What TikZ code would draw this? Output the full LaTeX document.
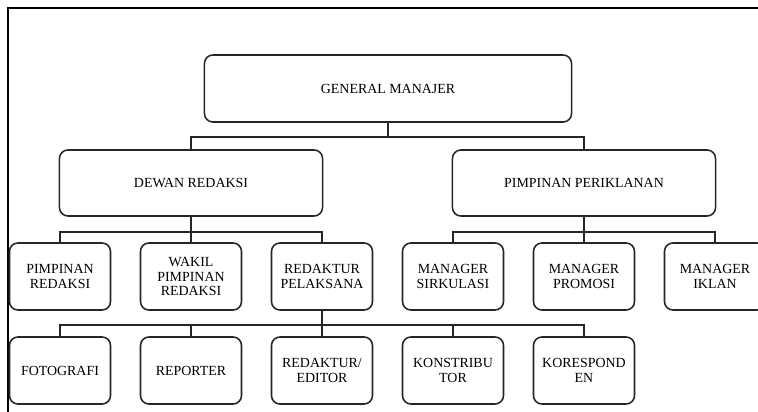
\documentclass[tikz,border=0pt]{standalone}
\usepackage{fontspec}
\setmainfont{Liberation Serif}

\begin{document}
\begin{tikzpicture}[
    x=0.025cm,y=-0.025cm,
    jabatan/.style={draw=black!85, line width=1.1pt, rounded corners=6pt,
      align=center, inner sep=1pt,
      font=\fontsize{9.9}{10.4}\selectfont},
    lebar/.style={jabatan, minimum width=6.575cm, minimum height=1.65cm},
    kecil/.style={jabatan, minimum width=2.525cm, minimum height=1.675cm},
    garis/.style={draw=black!85, line width=1.1pt}
  ]
        \useasboundingbox (0,0) rectangle (758,412);
        \clip (0,0) rectangle (758,412);
        % bingkai
        \draw[line width=1.4pt] (8,420) -- (8,8) -- (770,8);

        \node[jabatan, minimum width=9.175cm, minimum height=1.675cm] (gm) at (388,88.5) {GENERAL MANAJER};
        \node[lebar] (dr) at (191,183) {DEWAN REDAKSI};
        \node[lebar] (pp) at (584,183) {PIMPINAN PERIKLANAN};

        \node[kecil] (pr)  at (60,276.5)  {PIMPINAN\\REDAKSI};
        \node[kecil] (wpr) at (191,276.5) {WAKIL\\PIMPINAN\\REDAKSI};
        \node[kecil] (rp)  at (322,276.5) {REDAKTUR\\PELAKSANA};
        \node[kecil] (ms)  at (453,276.5) {MANAGER\\SIRKULASI};
        \node[kecil] (mp)  at (584,276.5) {MANAGER\\PROMOSI};
        \node[kecil] (mi)  at (715,276.5) {MANAGER\\IKLAN};

        \node[kecil] (foto) at (60,370.5)  {FOTOGRAFI};
        \node[kecil] (rep)  at (191,370.5) {REPORTER};
        \node[kecil] (red)  at (322,370.5) {REDAKTUR/\\EDITOR};
        \node[kecil] (kon)  at (453,370.5) {KONSTRIBU\\TOR};
        \node[kecil] (kor)  at (584,370.5) {KORESPOND\\EN};

        % garis hubung
        \draw[garis] (gm.south) -- ++(0,14) coordinate (gmbus);
        \draw[garis] (gmbus) -| (dr.north);
        \draw[garis] (gmbus) -| (pp.north);

        \draw[garis] (dr.south) -- ++(0,15) coordinate (drbus);
        \foreach \n in {pr,wpr,rp}
          \draw[garis] (drbus) -| (\n.north);

        \draw[garis] (pp.south) -- ++(0,15) coordinate (ppbus);
        \foreach \n in {ms,mp,mi}
          \draw[garis] (ppbus) -| (\n.north);

        \draw[garis] (rp.south) -- (red.north);
        \path (rp.south) -- ++(0,14) coordinate (rpbus);
        \foreach \n in {foto,rep,kon,kor}
          \draw[garis] (rpbus) -| (\n.north);
      \end{tikzpicture}
\end{document}
